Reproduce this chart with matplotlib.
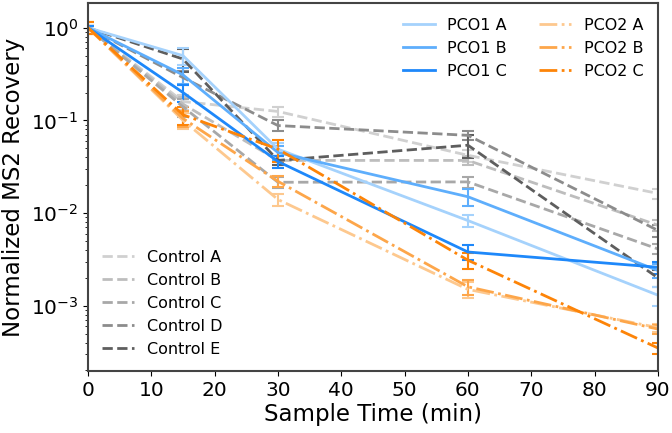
import numpy as np
import matplotlib.pyplot as plt

# sample times (min)
t = [0, 15, 30, 60, 90]

# normalized MS2 recovery
ctrl_a = [1.0, 0.16, 0.125, 0.042, 0.0163]
ctrl_b = [1.0, 0.15, 0.037, 0.037, 0.0074]
ctrl_c = [1.0, 0.14, 0.0215, 0.0217, 0.0041]
ctrl_d = [1.0, 0.29, 0.088, 0.069, 0.0065]
ctrl_e = [1.0, 0.46, 0.037, 0.054, 0.0020]

pco1_a = [1.0, 0.50, 0.049, 0.0083, 0.0013]
pco1_b = [1.0, 0.31, 0.045, 0.015, 0.0024]
pco1_c = [1.0, 0.20, 0.036, 0.0038, 0.0026]

pco2_a = [1.0, 0.100, 0.014, 0.0015, 0.00058]
pco2_b = [1.0, 0.105, 0.022, 0.0016, 0.00056]
pco2_c = [1.0, 0.115, 0.049, 0.0031, 0.00035]

# error bars
ctrl_a_err = [0.05, 0.03, 0.015, 0.006, 0.002]
ctrl_b_err = [0.05, 0.03, 0.004, 0.004, 0.001]
ctrl_c_err = [0.05, 0.03, 0.003, 0.003, 0.0005]
ctrl_d_err = [0.05, 0.05, 0.012, 0.008, 0.001]
ctrl_e_err = [0.05, 0.13, 0.004, 0.015, 0.0004]

pco1_a_err = [0.05, 0.10, 0.008, 0.0012, 0.0003]
pco1_b_err = [0.05, 0.06, 0.008, 0.003, 0.0004]
pco1_c_err = [0.05, 0.04, 0.005, 0.0007, 0.0004]

pco2_a_err = [0.15, 0.02, 0.002, 0.0003, 0.00006]
pco2_b_err = [0.15, 0.02, 0.003, 0.0003, 0.00006]
pco2_c_err = [0.15, 0.025, 0.013, 0.0006, 0.00005]

controls = [ctrl_a, ctrl_b, ctrl_c, ctrl_d, ctrl_e]
controls_err = [ctrl_a_err, ctrl_b_err, ctrl_c_err, ctrl_d_err, ctrl_e_err]
control_labels = ['Control A', 'Control B', 'Control C', 'Control D', 'Control E']
control_colors = ['#d0d0d0', '#bdbdbd', '#a8a8a8', '#8c8c8c', '#5e5e5e']

pco1 = [pco1_a, pco1_b, pco1_c]
pco1_err = [pco1_a_err, pco1_b_err, pco1_c_err]
pco1_labels = ['PCO1 A', 'PCO1 B', 'PCO1 C']
pco1_colors = ['#a5d2fc', '#5eaefc', '#1e88fa']

pco2 = [pco2_a, pco2_b, pco2_c]
pco2_err = [pco2_a_err, pco2_b_err, pco2_c_err]
pco2_labels = ['PCO2 A', 'PCO2 B', 'PCO2 C']
pco2_colors = ['#fdc88e', '#fda64a', '#fd8408']

fig = plt.figure(figsize=(6.72, 4.33), dpi=100)
ax = fig.add_axes([0.131, 0.143, 0.848, 0.849])

ctrl_handles = []
for y, e, lab, c in zip(controls, controls_err, control_labels, control_colors):
    h = ax.errorbar(t, y, yerr=e, color=c, ls='--', lw=2, capsize=4,
                    elinewidth=1.5, capthick=1.5, label=lab)
    ctrl_handles.append(h[0])

pco_handles = []
for y, e, lab, c in zip(pco1, pco1_err, pco1_labels, pco1_colors):
    h = ax.errorbar(t, y, yerr=e, color=c, ls='-', lw=2, capsize=4,
                    elinewidth=1.5, capthick=1.5, label=lab)
    pco_handles.append(h[0])
for y, e, lab, c in zip(pco2, pco2_err, pco2_labels, pco2_colors):
    h = ax.errorbar(t, y, yerr=e, color=c, ls='-.', lw=2, capsize=4,
                    elinewidth=1.5, capthick=1.5, label=lab)
    pco_handles.append(h[0])

ax.set_yscale('log')
ax.set_xlim(0, 90)
ax.set_ylim(1.97e-4, 1.83)
ax.set_xticks(np.arange(0, 91, 10))
ax.tick_params(labelsize=14.5)
ax.set_xlabel('Sample Time (min)', fontsize=16.5, labelpad=2)
ax.set_ylabel('Normalized MS2 Recovery', fontsize=16.5)
for s in ax.spines.values():
    s.set_color('#444444')
    s.set_linewidth(1.5)

leg1 = ax.legend(pco_handles, pco1_labels + pco2_labels, loc='upper right',
                 ncol=2, frameon=False, fontsize=11.5)
ax.add_artist(leg1)
ax.legend(ctrl_handles, control_labels, loc='lower left', frameon=False,
          fontsize=11.5)

fig.savefig('out.png', dpi=100)
